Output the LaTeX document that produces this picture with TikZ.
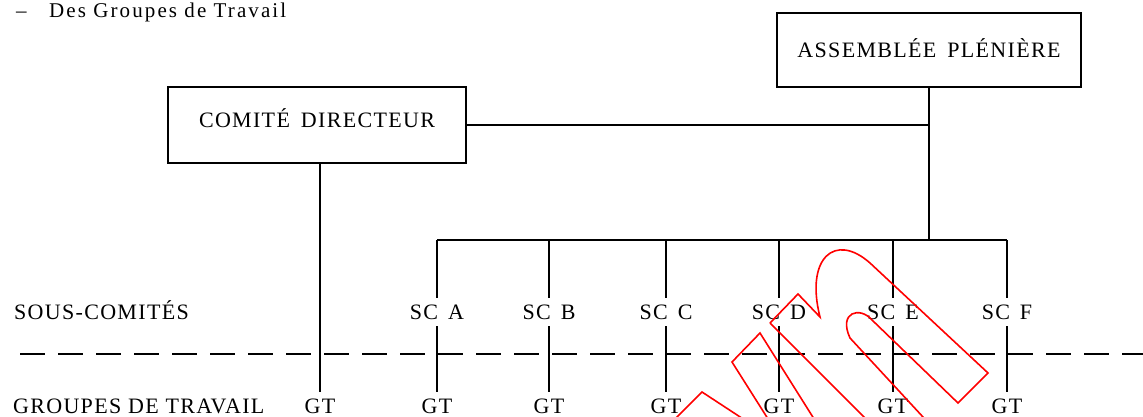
\documentclass[tikz,border=0pt]{standalone}
\usepackage{fontspec}
\setmainfont{Liberation Serif}
\newfontfamily\capsfont{Liberation Serif}[LetterSpace=6]
\newfontfamily\titlefont{Liberation Serif}[LetterSpace=10]
\usetikzlibrary{positioning}

\begin{document}
\begin{tikzpicture} [x=1pt, y=-1pt,
            line width=2.3pt,
            node distance = 94pt,
            on grid,
            font=\fontsize{22}{26}\selectfont\capsfont]
            \tikzset{box/.style={draw, line width=2pt, inner sep=0pt,
                                 text height=14.5pt, text depth=0pt},
                     caps/.style={inner xsep=0pt, inner ysep=6pt,
                                  text height=14.5pt, text depth=0pt},
                     label/.style={anchor=base west, inner sep=0pt},
                     stamp/.style={draw=red, line width=1.6pt}}

            \useasboundingbox (0,0) rectangle (1143,417);

            % Title
            \node (titre) [label] at (15,18)
                {\fontsize{21}{25}\selectfont\titlefont\makebox[33pt][l]{–}Des Groupes de Travail};

            % Boxes
            \node (assemblee) [box,
                minimum width=304pt,
                minimum height=74pt] at (929,50) {ASSEMBLÉE\hspace{11pt}PLÉNIÈRE};

            \node (comite) [box,
                minimum width=298pt,
                minimum height=75pt,
                text depth=10pt] at (317,125) {COMITÉ\hspace{11pt}DIRECTEUR};

            % Row labels
            \node (sous) [label] at (13,319) {SOUS-COMITÉS};
            \node (groupes) [label] at (12,413) {GROUPES DE TRAVAIL};

            % Sous-comites
            \node (sca) [caps] at (437,312) {SC\hspace{10pt}A};
            \node (scb) [caps] at (549,312) {SC\hspace{10pt}B};
            \node (scc) [caps] at (666,312) {SC\hspace{10pt}C};
            \node (scd) [caps] at (779,312) {SC\hspace{10pt}D};
            \node (sce) [caps] at (893,312) {SC\hspace{10pt}E};
            \node (scf) [caps] at (1007,312) {SC\hspace{10pt}F};

            % Groupes de travail
            \node (gt0) [caps] at (320,406) {GT};
            \node (gta) [caps, below = of sca] {GT};
            \node (gtb) [caps, below = of scb] {GT};
            \node (gtc) [caps, below = of scc] {GT};
            \node (gtd) [caps, below = of scd] {GT};
            \node (gte) [caps, below = of sce] {GT};
            \node (gtf) [caps, below = of scf] {GT};

            \coordinate (bus) at (0,240);
            \coordinate (trait) at (20,354);

            % Lines
            \draw (comite.east) -- (comite.east -| assemblee.south);
            \draw (assemblee.south) -- (assemblee.south |- bus);
            \draw (sca.north |- bus) -- (scf.north |- bus);
            \draw (gt0.north |- comite.south) -- (gt0.north);
            \draw (sca.north |- bus) -- (sca.north)  (sca.south) -- (gta.north);
            \draw (scb.north |- bus) -- (scb.north)  (scb.south) -- (gtb.north);
            \draw (scc.north |- bus) -- (scc.north)  (scc.south) -- (gtc.north);
            \draw (scd.north |- bus) -- (scd.north)  (scd.south) -- (gtd.north);
            \draw (sce.north |- bus) -- (sce.north)  (sce.south) -- (gte.north);
            \draw (scf.north |- bus) -- (scf.north)  (scf.south) -- (gtf.north);
            \draw [line width=2.4pt, dash pattern=on 25pt off 13pt]
                (trait) -- (trait -| 1143,0);

            % Stamp
            \begin{scope}
                \clip (0,0) rectangle (1143,417);
                \draw [stamp] (770,323) -- (798,294) -- (820,317)
                    .. controls (805,258) and (835,232) .. (870,263)
                    -- (988,373) -- (958,403) -- (872,320)
                    .. controls (860,306) and (838,312) .. (850,338)
                    -- (935,430);
                \draw [stamp] (770,323) -- (877,430);
                \draw [stamp] (775,430) -- (732,362) -- (760,333) -- (821,430);
                \draw [stamp] (664,430) -- (702,392) -- (760,430);
            \end{scope}
        \end{tikzpicture}
\end{document}
